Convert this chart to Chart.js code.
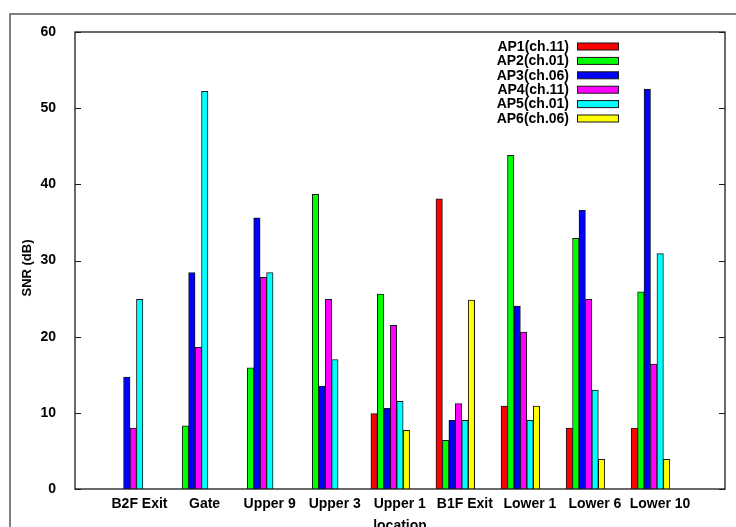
<!DOCTYPE html>
<html>
<head>
<meta charset="utf-8">
<script src="https://cdn.jsdelivr.net/npm/chart.js@4/dist/chart.umd.min.js"></script>
<style>
  html, body { margin: 0; padding: 0; background: #fff; }
  canvas { display: block; }
</style>
</head>
<body>
<canvas id="snr" width="736" height="527"></canvas>
<script>
// Measurement locations
const categories = ['B2F Exit', 'Gate', 'Upper 9', 'Upper 3', 'Upper 1', 'B1F Exit', 'Lower 1', 'Lower 6', 'Lower 10'];

// Access points (legend text)
const seriesNames = ['AP1(ch.11)', 'AP2(ch.01)', 'AP3(ch.06)', 'AP4(ch.11)', 'AP5(ch.01)', 'AP6(ch.06)'];

// SNR in dB per location, one list per access point
const ap1 = [0, 0, 0, 0, 9.9, 38.1, 10.9, 8.0, 8.0];
const ap2 = [0, 8.3, 15.9, 38.7, 25.6, 6.4, 43.8, 32.9, 25.9];
const ap3 = [14.7, 28.4, 35.6, 13.5, 10.6, 9.0, 24.0, 36.6, 52.5];
const ap4 = [8.0, 18.6, 27.8, 24.9, 21.5, 11.2, 20.6, 24.9, 16.4];
const ap5 = [24.9, 52.2, 28.4, 17.0, 11.5, 9.0, 9.0, 13.0, 30.9];
const ap6 = [0, 0, 0, 0, 7.7, 24.8, 10.9, 3.9, 3.9];

// Y axis tick values
const yTickValues = [0, 10, 20, 30, 40, 50, 60];

const seriesValues = [ap1, ap2, ap3, ap4, ap5, ap6];
const seriesColors = ['#ff0000', '#00ff00', '#0000ff', '#ff00ff', '#00ffff', '#ffff00'];
const FONT = "'Liberation Sans', Arial, Helvetica, sans-serif";

const datasets = seriesValues.map((vals, k) => ({
  label: seriesNames[k],
  data: vals.map((v, i) => ({ x: i + 1, y: v })),
  backgroundColor: seriesColors[k],
  borderColor: '#151515',
  borderWidth: 1,
  borderSkipped: 'start',
  barThickness: 6.45
}));

// Frame, inward ticks, axis titles and the key
const decorations = {
  id: 'decorations',
  beforeDraw(chart) {
    const ctx = chart.ctx;
    ctx.save();
    ctx.fillStyle = '#fff';
    ctx.fillRect(0, 0, chart.width, chart.height);
    ctx.strokeStyle = '#555';
    ctx.lineWidth = 1.5;
    ctx.beginPath();
    ctx.moveTo(10, chart.height);
    ctx.lineTo(10, 14);
    ctx.lineTo(chart.width, 14);
    ctx.stroke();
    ctx.restore();
  },
  afterDraw(chart) {
    const ctx = chart.ctx;
    const a = chart.chartArea;
    const y = chart.scales.y;
    ctx.save();
    // plot border
    ctx.strokeStyle = '#1a1a1a';
    ctx.lineWidth = 1.3;
    ctx.strokeRect(a.left, a.top, a.right - a.left, a.bottom - a.top);
    // inward tick marks on both vertical sides
    ctx.lineWidth = 1;
    ctx.beginPath();
    yTickValues.forEach(v => {
      const py = Math.round(y.getPixelForValue(v)) + 0.5;
      ctx.moveTo(a.left, py); ctx.lineTo(a.left + 6, py);
      ctx.moveTo(a.right, py); ctx.lineTo(a.right - 6, py);
    });
    ctx.stroke();

    ctx.fillStyle = '#000';
    ctx.font = 'bold 14px ' + FONT;
    // x axis title
    ctx.textAlign = 'center';
    ctx.textBaseline = 'top';
    ctx.fillText('location', (a.left + a.right) / 2, 519);
    // y axis title
    ctx.save();
    ctx.font = 'bold 13px ' + FONT;
    ctx.translate(27, 268);
    ctx.rotate(-Math.PI / 2);
    ctx.textBaseline = 'middle';
    ctx.fillText('SNR (dB)', 0, 0);
    ctx.restore();

    // key: text right-aligned, swatch to its right
    ctx.textAlign = 'right';
    ctx.textBaseline = 'middle';
    seriesNames.forEach((name, k) => {
      const cy = 46.5 + k * 14.4;
      ctx.fillStyle = '#000';
      ctx.fillText(name, 569, cy + 0.5);
      ctx.fillStyle = seriesColors[k];
      ctx.fillRect(577, cy - 3.5, 42, 7);
      ctx.strokeStyle = '#151515';
      ctx.lineWidth = 1;
      ctx.strokeRect(577.5, cy - 3.5, 41, 7);
    });
    ctx.restore();
  }
};

new Chart(document.getElementById('snr'), {
  type: 'bar',
  data: { datasets },
  plugins: [decorations],
  options: {
    responsive: false,
    animation: false,
    devicePixelRatio: 1,
    layout: { padding: { left: 0, right: 11, top: 32, bottom: 0 } },
    plugins: { legend: { display: false }, tooltip: { enabled: false } },
    scales: {
      x: {
        type: 'linear',
        offset: false,
        min: 0.1546,
        max: 10.145,
        grid: { display: false, drawTicks: false },
        border: { display: false },
        afterBuildTicks: s => { s.ticks = categories.map((c, i) => ({ value: i + 1 })); },
        afterFit: s => { s.height = 38; },
        ticks: {
          autoSkip: false,
          maxRotation: 0,
          minRotation: 0,
          labelOffset: 9.5,
          padding: 7,
          color: '#000',
          font: { family: FONT, size: 14, weight: 'bold' },
          callback: v => categories[v - 1] ?? ''
        }
      },
      y: {
        min: 0,
        max: 60,
        grid: { display: false, drawTicks: false },
        border: { display: false },
        afterBuildTicks: s => { s.ticks = yTickValues.map(v => ({ value: v })); },
        afterFit: s => { s.width = 75; },
        ticks: {
          padding: 19,
          color: '#000',
          font: { family: FONT, size: 14, weight: 'bold' }
        }
      }
    }
  }
});
</script>
</body>
</html>
